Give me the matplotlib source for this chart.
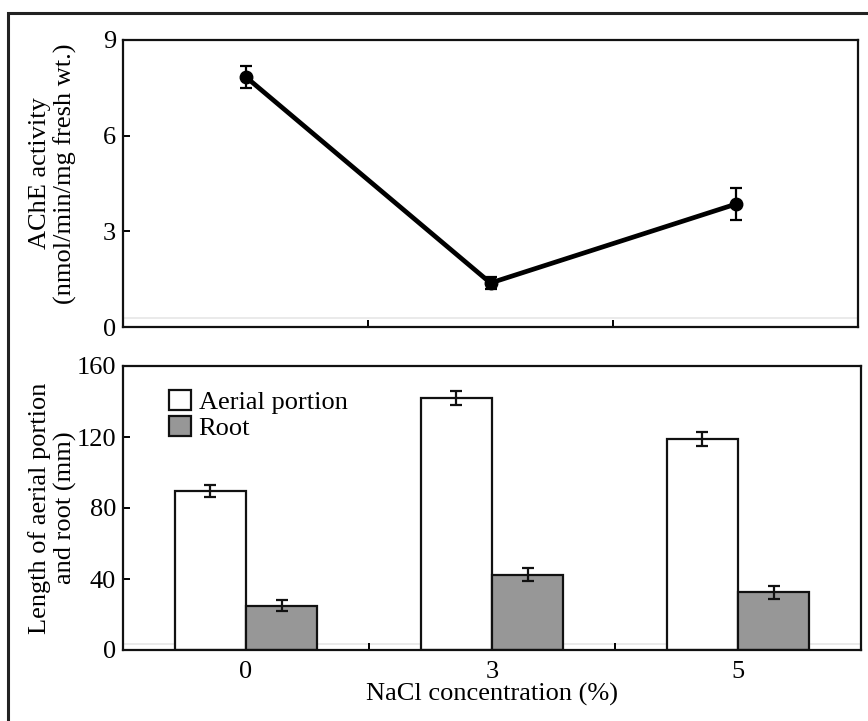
import matplotlib
matplotlib.use("Agg")
from matplotlib import pyplot as plt
from matplotlib.patches import Rectangle, Patch
import numpy as np

plt.rcParams['font.family'] = ['Liberation Serif', 'DejaVu Serif']

# data
nacl = ['0', '3', '5']
ache = [7.85, 1.38, 3.85]
ache_err = [0.35, 0.2, 0.5]
aerial = [89.5, 142.0, 119.0]
aerial_err = [3.3, 3.8, 4.0]
root = [25.0, 42.5, 32.5]
root_err = [3.0, 3.5, 3.6]

FS = 19

fig = plt.figure(figsize=(8.68, 7.21), dpi=100)

# outer frame, cut off at the right and bottom like the scan
fig.patches.append(Rectangle((8 / 868, -0.1), 1.2, 1 - 13 / 721 + 0.1,
                             transform=fig.transFigure, fill=False,
                             edgecolor='#222222', lw=2.2))

x = np.arange(len(nacl))

# ---- top panel: AChE activity
ax1 = fig.add_axes([123 / 868, 1 - 327 / 721, 735 / 868, 287 / 721])
ax1.axhline(0.27, color='#e6e6e6', lw=1.2, zorder=0)
ax1.errorbar(x, ache, yerr=ache_err, color='black', lw=3.4, marker='o',
             markersize=9, ecolor='black', elinewidth=1.6, capsize=4,
             capthick=1.6)
ax1.set_xlim(-0.5, 2.5)
ax1.set_ylim(0, 9)
ax1.set_yticks([0, 3, 6, 9])
ax1.set_xticks([0.5, 1.5])
ax1.set_xticklabels([])
ax1.set_ylabel('AChE activity\n(nmol/min/mg fresh wt.)', fontsize=FS,
               linespacing=1.12)
ax1.yaxis.set_label_coords(-0.063, 0.535)

# ---- bottom panel: lengths
ax2 = fig.add_axes([123 / 868, 1 - 650 / 721, 738 / 868, 284 / 721])
w = 0.29
ax2.axhline(3.4, color='#e6e6e6', lw=1.2, zorder=0)
ax2.bar(x - w / 2, aerial, w, color='white', edgecolor='#111111', lw=1.6,
        yerr=aerial_err, capsize=4,
        error_kw=dict(elinewidth=1.6, capthick=1.6, ecolor='#111111'))
ax2.bar(x + w / 2, root, w, color='#979797', edgecolor='#111111', lw=1.6,
        yerr=root_err, capsize=4,
        error_kw=dict(elinewidth=1.6, capthick=1.6, ecolor='#111111'))
ax2.set_xlim(-0.5, 2.5)
ax2.set_ylim(0, 160)
ax2.set_yticks([0, 40, 80, 120, 160])
ax2.set_xticks(x)
ax2.set_xticklabels(nacl)
ax2.tick_params(axis='x', length=0, pad=8)
ax2.set_xticks([0.5, 1.5], minor=True)
ax2.set_ylabel('Length of aerial portion\nand root (mm)', fontsize=FS,
               linespacing=1.12)
ax2.yaxis.set_label_coords(-0.063, 0.5)
ax2.set_xlabel('NaCl concentration (%)', fontsize=FS, labelpad=0)

handles = [Patch(facecolor='white', edgecolor='#111111', lw=1.6),
           Patch(facecolor='#979797', edgecolor='#111111', lw=1.6)]
ax2.legend(handles, ['Aerial portion', 'Root'], loc='upper left',
           bbox_to_anchor=(0.063, 0.915), frameon=False, fontsize=FS,
           handlelength=0.8, handleheight=0.8, handletextpad=0.3,
           labelspacing=0.05, borderaxespad=0, borderpad=0)

for ax in (ax1, ax2):
    for s in ax.spines.values():
        s.set_linewidth(1.6)
        s.set_color('#111111')
    ax.tick_params(axis='y', direction='in', length=5, width=1.4,
                   labelsize=FS, pad=5)
    ax.tick_params(axis='x', which='both', direction='in', labelsize=FS)
ax1.tick_params(axis='x', length=5, width=1.4)
ax2.tick_params(axis='x', which='minor', length=5, width=1.4)

fig.savefig('out.png', dpi=100)
